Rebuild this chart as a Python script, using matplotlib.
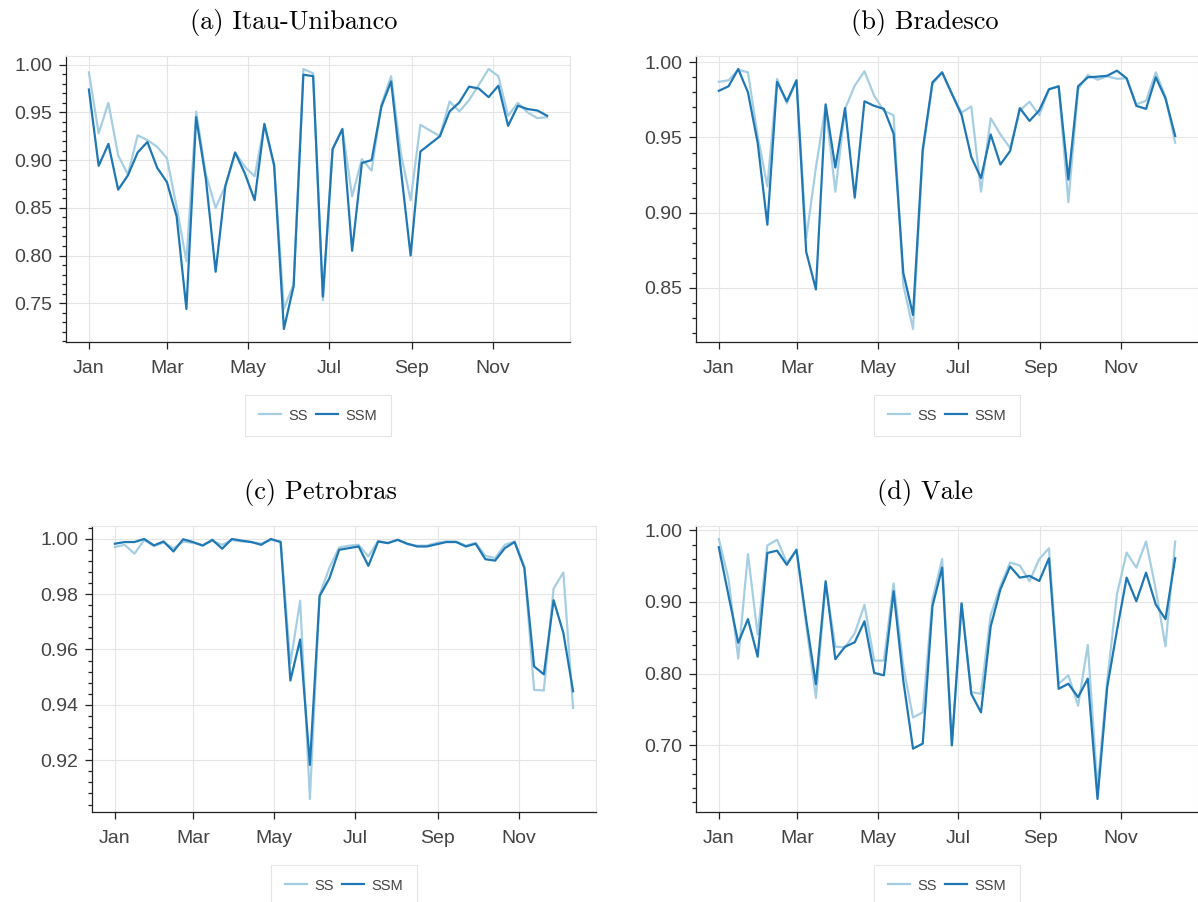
import numpy as np
import pandas as pd
import matplotlib
matplotlib.use("Agg")
import matplotlib.pyplot as plt
import matplotlib.dates as mdates
from matplotlib.ticker import MultipleLocator, AutoMinorLocator, FormatStrFormatter

# 48 observations over the year
dates = pd.date_range("2019-01-01", "2019-12-12", periods=48)

itau_ss = [0.992, 0.928, 0.960, 0.905, 0.885, 0.926, 0.921, 0.914, 0.902, 0.851,
           0.794, 0.951, 0.885, 0.850, 0.873, 0.908, 0.893, 0.883, 0.937, 0.893,
           0.744, 0.770, 0.9955, 0.991, 0.753, 0.912, 0.933, 0.862, 0.901, 0.889,
           0.958, 0.988, 0.907, 0.858, 0.937, 0.931, 0.925, 0.9615, 0.951, 0.963,
           0.979, 0.9955, 0.988, 0.9465, 0.960, 0.950, 0.944, 0.945]
itau_ssm = [0.974, 0.894, 0.917, 0.869, 0.884, 0.908, 0.919, 0.892, 0.877, 0.841,
            0.744, 0.945, 0.880, 0.783, 0.873, 0.908, 0.886, 0.858, 0.938, 0.895,
            0.723, 0.768, 0.9895, 0.988, 0.757, 0.9115, 0.9325, 0.805, 0.897, 0.900,
            0.956, 0.9825, 0.890, 0.800, 0.909, 0.917, 0.925, 0.951, 0.9605, 0.977,
            0.975, 0.966, 0.978, 0.936, 0.957, 0.9535, 0.952, 0.9465]

brad_ss = [0.987, 0.988, 0.995, 0.9933, 0.951, 0.9175, 0.9889, 0.9726, 0.988, 0.883,
           0.930, 0.971, 0.914, 0.969, 0.9845, 0.994, 0.9777, 0.9677, 0.9648, 0.852,
           0.8227, 0.940, 0.9855, 0.993, 0.979, 0.9665, 0.9706, 0.914, 0.9628, 0.952,
           0.943, 0.968, 0.9737, 0.9648, 0.982, 0.984, 0.907, 0.982, 0.9915, 0.9884,
           0.9906, 0.989, 0.9893, 0.972, 0.9744, 0.9933, 0.977, 0.9465]
brad_ssm = [0.981, 0.984, 0.9955, 0.980, 0.9465, 0.892, 0.987, 0.974, 0.988, 0.874,
            0.849, 0.972, 0.930, 0.9695, 0.910, 0.974, 0.971, 0.969, 0.9525, 0.860,
            0.832, 0.942, 0.9866, 0.9933, 0.979, 0.965, 0.937, 0.923, 0.952, 0.932,
            0.941, 0.9695, 0.961, 0.968, 0.982, 0.984, 0.922, 0.984, 0.990, 0.9904,
            0.991, 0.9944, 0.9893, 0.971, 0.969, 0.990, 0.976, 0.951]

petr_ss = [0.997, 0.9978, 0.9946, 0.9995, 0.9974, 0.9986, 0.9965, 0.999, 0.9985, 0.9978,
           0.9992, 0.9978, 0.9995, 0.999, 0.9988, 0.9982, 0.9996, 0.999, 0.955, 0.9776,
           0.906, 0.9797, 0.9895, 0.9968, 0.9975, 0.9978, 0.9936, 0.9992, 0.9985, 0.9996,
           0.998, 0.9975, 0.9975, 0.9985, 0.999, 0.999, 0.9975, 0.9985, 0.9938, 0.993,
           0.9978, 0.999, 0.990, 0.9454, 0.9452, 0.982, 0.9878, 0.9389]
petr_ssm = [0.9982, 0.9988, 0.9988, 0.9999, 0.9976, 0.999, 0.9954, 0.9998, 0.9988, 0.9975,
            0.9996, 0.9964, 0.9999, 0.9993, 0.9988, 0.9978, 0.9999, 0.9988, 0.9488, 0.9636,
            0.9183, 0.9793, 0.9857, 0.996, 0.9966, 0.9972, 0.9902, 0.999, 0.9984, 0.9996,
            0.9982, 0.9972, 0.9972, 0.998, 0.9988, 0.9988, 0.9972, 0.9982, 0.9926, 0.9921,
            0.9966, 0.9988, 0.9894, 0.9539, 0.951, 0.9778, 0.966, 0.9449]

vale_ss = [0.988, 0.932, 0.821, 0.967, 0.854, 0.979, 0.987, 0.955, 0.9717, 0.868,
           0.766, 0.926, 0.8375, 0.8365, 0.8564, 0.896, 0.818, 0.818, 0.926, 0.81,
           0.7386, 0.7457, 0.9034, 0.960, 0.700, 0.898, 0.774, 0.7716, 0.882, 0.922,
           0.9552, 0.951, 0.929, 0.960, 0.975, 0.7857, 0.7975, 0.755, 0.840, 0.640,
           0.79, 0.9105, 0.969, 0.948, 0.9845, 0.9176, 0.838, 0.9845]
vale_ssm = [0.9765, 0.909, 0.843, 0.876, 0.8235, 0.9685, 0.9717, 0.952, 0.973, 0.875,
            0.785, 0.929, 0.820, 0.8375, 0.8436, 0.873, 0.8008, 0.7975, 0.915, 0.79,
            0.695, 0.702, 0.894, 0.948, 0.6995, 0.898, 0.7716, 0.7457, 0.8658, 0.9176,
            0.9496, 0.934, 0.9364, 0.9293, 0.961, 0.7786, 0.7857, 0.7669, 0.7928, 0.6246,
            0.781, 0.86, 0.934, 0.901, 0.941, 0.8964, 0.876, 0.961]

titles = ["(a) Itau-Unibanco", "(b) Bradesco", "(c) Petrobras", "(d) Vale"]
series = [(itau_ss, itau_ssm), (brad_ss, brad_ssm), (petr_ss, petr_ssm), (vale_ss, vale_ssm)]
y_steps = [0.05, 0.05, 0.02, 0.1]

W, H = 1198, 902
# axes boxes in pixels: left, top, width, height
boxes = [(66, 56, 504, 286), (696, 56, 502, 286), (92, 526, 504, 286), (696, 526, 502, 286)]
title_pos = [(294, 23), (925, 23), (320, 493), (925, 493)]

fig = plt.figure(figsize=(W / 100, H / 100), dpi=100)
light = "#a6cee3"
dark = "#1f78b4"
grid_c = "#e5e5e5"
txt_c = "#444444"

for k in range(4):
    l, t, w, h = boxes[k]
    ax = fig.add_axes([l / W, (H - t - h) / H, w / W, h / H])
    ss, ssm = series[k]
    ax.plot(dates, ss, color=light, lw=1.6, label="SS")
    ax.plot(dates, ssm, color=dark, lw=1.6, label="SSM")

    ax.xaxis.set_major_locator(mdates.MonthLocator(bymonth=[1, 3, 5, 7, 9, 11]))
    ax.xaxis.set_major_formatter(mdates.DateFormatter("%b"))
    ax.yaxis.set_major_locator(MultipleLocator(y_steps[k]))
    ax.yaxis.set_minor_locator(AutoMinorLocator(5))
    ax.yaxis.set_major_formatter(FormatStrFormatter("%.2f"))

    ax.grid(True, color=grid_c, lw=0.8)
    ax.set_axisbelow(True)
    for s in ["top", "right"]:
        ax.spines[s].set_color(grid_c)
        ax.spines[s].set_linewidth(0.8)
    for s in ["left", "bottom"]:
        ax.spines[s].set_color("#222222")
        ax.spines[s].set_linewidth(0.9)
    ax.tick_params(axis="both", which="major", direction="out", length=5, width=0.9,
                   color="#222222", labelsize=14, labelcolor=txt_c)
    ax.tick_params(axis="y", which="minor", direction="out", length=3, width=0.9, color="#222222")
    ax.tick_params(axis="y", which="major", pad=5)
    ax.tick_params(axis="x", which="major", pad=8)
    for lab in ax.get_xticklabels() + ax.get_yticklabels():
        lab.set_fontfamily("Liberation Sans")

    leg = ax.legend(loc="center", bbox_to_anchor=(0.5, -0.257), ncol=2, frameon=True,
                    fancybox=False, edgecolor=grid_c, framealpha=1,
                    prop={"family": "Liberation Sans", "size": 10.5},
                    handlelength=1.5, handletextpad=0.5, columnspacing=0.6, borderpad=0.95)
    leg.get_frame().set_linewidth(0.8)
    for tx in leg.get_texts():
        tx.set_color(txt_c)

    tx, ty = title_pos[k]
    fig.text(tx / W, 1 - ty / H, titles[k], ha="center", va="center",
             fontfamily="cmr10", fontsize=19)

fig.savefig("out.png", dpi=100)
